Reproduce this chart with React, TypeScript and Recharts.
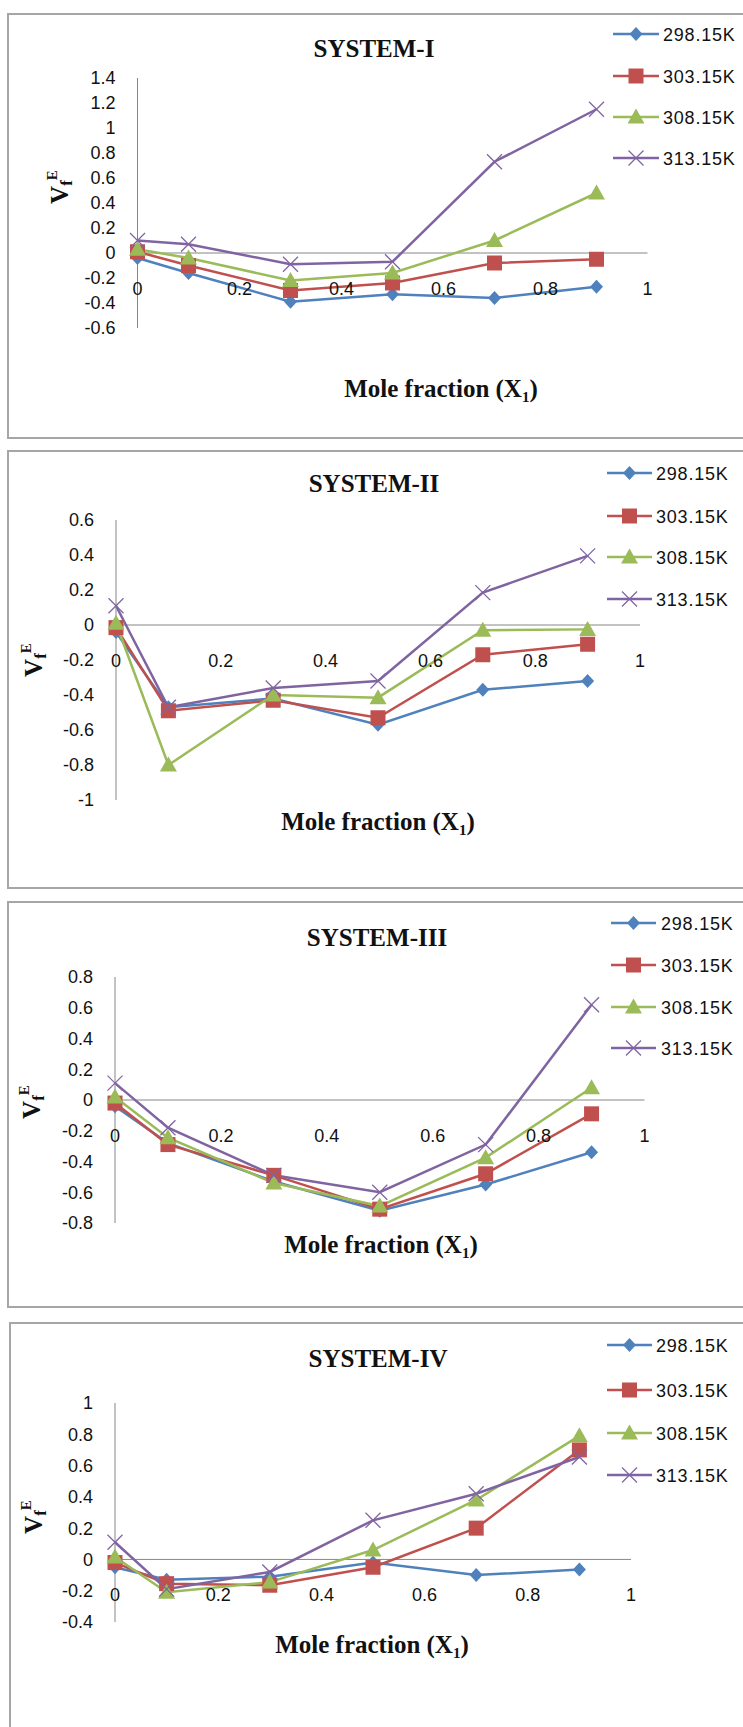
import { LineChart, Line, XAxis, YAxis, ReferenceLine } from 'recharts'

const moleFractions = [0, 0.1, 0.3, 0.5, 0.7, 0.9]
const xTicks = [0, 0.2, 0.4, 0.6, 0.8, 1]
const temperatures = ['298.15K', '303.15K', '308.15K', '313.15K']

// SYSTEM-I
const sys1T298 = [-0.04, -0.16, -0.39, -0.33, -0.36, -0.27]
const sys1T303 = [0.01, -0.1, -0.3, -0.24, -0.08, -0.05]
const sys1T308 = [0.03, -0.04, -0.22, -0.16, 0.1, 0.48]
const sys1T313 = [0.1, 0.07, -0.09, -0.07, 0.73, 1.15]
const sys1YTicks = [-0.6, -0.4, -0.2, 0, 0.2, 0.4, 0.6, 0.8, 1, 1.2, 1.4]

// SYSTEM-II
const sys2T298 = [-0.04, -0.47, -0.42, -0.57, -0.37, -0.32]
const sys2T303 = [-0.015, -0.49, -0.43, -0.53, -0.17, -0.11]
const sys2T308 = [0.01, -0.8, -0.4, -0.415, -0.03, -0.025]
const sys2T313 = [0.11, -0.47, -0.36, -0.32, 0.185, 0.395]
const sys2YTicks = [-1, -0.8, -0.6, -0.4, -0.2, 0, 0.2, 0.4, 0.6]

// SYSTEM-III
const sys3T298 = [-0.04, -0.28, -0.53, -0.72, -0.55, -0.34]
const sys3T303 = [-0.02, -0.29, -0.49, -0.71, -0.48, -0.09]
const sys3T308 = [0.02, -0.245, -0.54, -0.69, -0.375, 0.08]
const sys3T313 = [0.11, -0.18, -0.49, -0.6, -0.29, 0.62]
const sys3YTicks = [-0.8, -0.6, -0.4, -0.2, 0, 0.2, 0.4, 0.6, 0.8]

// SYSTEM-IV
const sys4T298 = [-0.05, -0.13, -0.11, -0.02, -0.1, -0.065]
const sys4T303 = [-0.02, -0.155, -0.165, -0.05, 0.2, 0.7]
const sys4T308 = [0.015, -0.21, -0.145, 0.06, 0.38, 0.79]
const sys4T313 = [0.11, -0.19, -0.08, 0.25, 0.42, 0.655]
const sys4YTicks = [-0.4, -0.2, 0, 0.2, 0.4, 0.6, 0.8, 1]

const seriesKeys = ['t298', 't303', 't308', 't313']
const seriesColors = ['#4F81BD', '#C0504D', '#9BBB59', '#8064A2']

const AXIS_GRAY = '#868686'
const SANS = "'Liberation Sans', Arial, sans-serif"
const SERIF = "'Liberation Serif', 'Times New Roman', serif"

// layout per panel, coordinates relative to the panel's own box
const panels = [
  {
    title: 'SYSTEM-I', top: 0, height: 440,
    series: [sys1T298, sys1T303, sys1T308, sys1T313], yTicks: sys1YTicks,
    plot: { left: 137.5, right: 647.5, top: 78, bottom: 328 },
    box: { left: 8, top: 14, bottom: 438 },
    titleX: 374, titleY: 57,
    legendLine: [613, 659], legendTextX: 663, legendY: [34, 76, 117, 158],
    axisTitleX: 441, axisTitleY: 397,
    yLabelX: 68, yLabelY: 187,
  },
  {
    title: 'SYSTEM-II', top: 440, height: 450,
    series: [sys2T298, sys2T303, sys2T308, sys2T313], yTicks: sys2YTicks,
    plot: { left: 116, right: 640, top: 80, bottom: 360 },
    box: { left: 8, top: 11, bottom: 448 },
    titleX: 374, titleY: 52,
    legendLine: [607, 652], legendTextX: 656, legendY: [33, 76, 117, 159],
    axisTitleX: 378, axisTitleY: 390,
    yLabelX: 42, yLabelY: 220,
  },
  {
    title: 'SYSTEM-III', top: 890, height: 420,
    series: [sys3T298, sys3T303, sys3T308, sys3T313], yTicks: sys3YTicks,
    plot: { left: 115, right: 644.5, top: 87, bottom: 333 },
    box: { left: 8, top: 12, bottom: 417 },
    titleX: 377, titleY: 56,
    legendLine: [611, 656], legendTextX: 661, legendY: [33, 75, 117, 158],
    axisTitleX: 381, axisTitleY: 363,
    yLabelX: 40, yLabelY: 212,
  },
  {
    title: 'SYSTEM-IV', top: 1310, height: 417,
    series: [sys4T298, sys4T303, sys4T308, sys4T313], yTicks: sys4YTicks,
    plot: { left: 115, right: 631, top: 93, bottom: 312 },
    box: { left: 10, top: 13, bottom: null },
    titleX: 378, titleY: 57,
    legendLine: [607, 652], legendTextX: 656, legendY: [35, 80, 123, 165],
    axisTitleX: 372, axisTitleY: 343,
    yLabelX: 42, yLabelY: 207,
  },
]

function Marker({ kind, cx, cy, color }: { kind: number; cx: number; cy: number; color: string }) {
  if (kind === 0) {
    return <polygon points={`${cx},${cy - 7} ${cx + 6.5},${cy} ${cx},${cy + 7} ${cx - 6.5},${cy}`} fill={color} />
  }
  if (kind === 1) {
    return <rect x={cx - 7.5} y={cy - 7.5} width={15} height={15} fill={color} />
  }
  if (kind === 2) {
    return <polygon points={`${cx},${cy - 8.5} ${cx + 8.5},${cy + 6.5} ${cx - 8.5},${cy + 6.5}`} fill={color} />
  }
  return (
    <g stroke={color} strokeWidth={1.3}>
      <line x1={cx - 7.5} y1={cy - 7.5} x2={cx + 7.5} y2={cy + 7.5} />
      <line x1={cx - 7.5} y1={cy + 7.5} x2={cx + 7.5} y2={cy - 7.5} />
    </g>
  )
}

function SystemPanel({ cfg }: { cfg: (typeof panels)[number] }) {
  const rows = moleFractions.map((x, i) => ({
    x,
    t298: cfg.series[0][i],
    t303: cfg.series[1][i],
    t308: cfg.series[2][i],
    t313: cfg.series[3][i],
  }))
  const yMin = cfg.yTicks[0]
  const yMax = cfg.yTicks[cfg.yTicks.length - 1]
  const { plot } = cfg
  // x tick labels sit under the zero line, not at the bottom of the plot
  const zeroY = plot.top + ((plot.bottom - plot.top) * yMax) / (yMax - yMin)

  const renderXTick = (props: any) => (
    <text
      x={props.x}
      y={zeroY + 42}
      textAnchor="middle"
      fontSize={18}
      fontFamily={SANS}
      fill="#111"
    >
      {String(props.payload.value)}
    </text>
  )

  const boxBottom = cfg.box.bottom == null ? cfg.height + 10 : cfg.box.bottom

  return (
    <div style={{ position: 'absolute', left: 0, top: cfg.top, width: 743, height: cfg.height }}>
      <div
        style={{
          position: 'absolute',
          left: cfg.box.left - 1,
          top: cfg.box.top - 1,
          width: 800,
          height: boxBottom - cfg.box.top - 2,
          border: '2px solid #a6a6a6',
        }}
      />
      <div style={{ position: 'absolute', left: 0, top: 0 }}>
        <LineChart
          width={743}
          height={cfg.height}
          data={rows}
          margin={{
            top: plot.top,
            left: plot.left - 60,
            right: 743 - plot.right,
            bottom: cfg.height - plot.bottom - 30,
          }}
        >
          <XAxis
            type="number"
            dataKey="x"
            domain={[0, 1]}
            ticks={xTicks}
            interval={0}
            axisLine={false}
            tickLine={false}
            height={30}
            tick={renderXTick}
          />
          <YAxis
            type="number"
            domain={[yMin, yMax]}
            ticks={cfg.yTicks}
            interval={0}
            width={60}
            axisLine={{ stroke: AXIS_GRAY, strokeWidth: 1 }}
            tickLine={false}
            tickSize={0}
            tickMargin={22}
            tickFormatter={(v: number) => String(v)}
            tick={{ fontSize: 18, fill: '#111', fontFamily: SANS }}
          />
          <ReferenceLine y={0} stroke={AXIS_GRAY} strokeWidth={1} />
          {seriesKeys.map((key, i) => (
            <Line
              key={key}
              type="linear"
              dataKey={key}
              name={temperatures[i]}
              stroke={seriesColors[i]}
              strokeWidth={2.5}
              isAnimationActive={false}
              activeDot={false}
              dot={(p: any) => (
                <Marker key={`${key}-${p.index}`} kind={i} cx={p.cx} cy={p.cy} color={seriesColors[i]} />
              )}
            />
          ))}
        </LineChart>
      </div>

      {/* titles and legend */}
      <svg
        width={743}
        height={cfg.height}
        style={{ position: 'absolute', left: 0, top: 0, pointerEvents: 'none' }}
      >
        <text x={cfg.titleX} y={cfg.titleY} textAnchor="middle" fontFamily={SERIF} fontWeight={700} fontSize={25} fill="#111">
          {cfg.title}
        </text>
        <text x={cfg.axisTitleX} y={cfg.axisTitleY} textAnchor="middle" fontFamily={SERIF} fontWeight={700} fontSize={25} fill="#111">
          Mole fraction (X<tspan fontSize={15} dy={5}>1</tspan><tspan dy={-5}>)</tspan>
        </text>
        <text
          transform={`translate(${cfg.yLabelX},${cfg.yLabelY}) rotate(-90)`}
          textAnchor="middle"
          fontFamily={SERIF}
          fontWeight={700}
          fontSize={25}
          fill="#111"
        >
          V<tspan fontSize={17} dy={4}>f</tspan><tspan fontSize={15} dy={-15}>E</tspan>
        </text>
        {temperatures.map((t, i) => {
          const y = cfg.legendY[i]
          const [x1, x2] = cfg.legendLine
          return (
            <g key={t}>
              <line x1={x1} y1={y} x2={x2} y2={y} stroke={seriesColors[i]} strokeWidth={2.5} />
              <Marker kind={i} cx={(x1 + x2) / 2} cy={y} color={seriesColors[i]} />
              <text x={cfg.legendTextX} y={y + 6.5} fontFamily={SANS} fontSize={18} letterSpacing={0.8} fill="#111">
                {t}
              </text>
            </g>
          )
        })}
      </svg>
    </div>
  )
}

export default function App() {
  return (
    <div
      style={{
        position: 'absolute',
        left: 0,
        top: 0,
        width: 743,
        height: 1727,
        overflow: 'hidden',
        background: '#ffffff',
      }}
    >
      {panels.map((cfg) => (
        <SystemPanel key={cfg.title} cfg={cfg} />
      ))}
    </div>
  )
}
